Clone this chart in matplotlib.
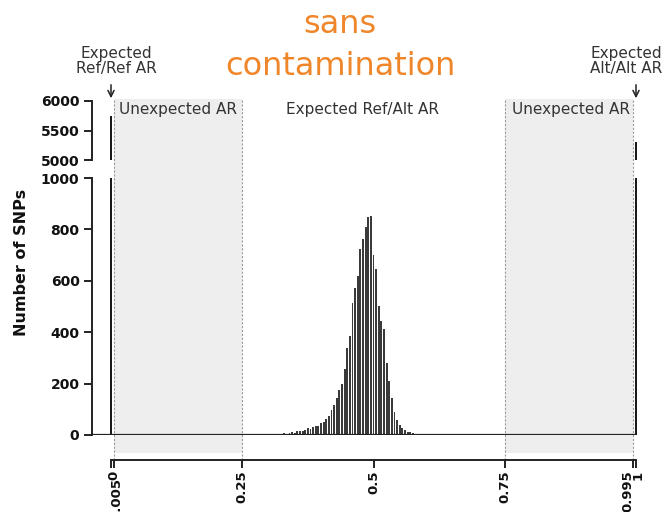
import matplotlib
matplotlib.use("Agg")
import matplotlib.pyplot as plt
import matplotlib.transforms as mtransforms
import numpy as np

# ---------------- data ----------------
bin_centers = [0.300, 0.305, 0.310, 0.315, 0.320, 0.325, 0.330, 0.335, 0.340, 0.345,
               0.350, 0.355, 0.360, 0.365, 0.370, 0.375, 0.380, 0.385, 0.390, 0.395,
               0.400, 0.405, 0.410, 0.415, 0.420, 0.425, 0.430, 0.435, 0.440, 0.445,
               0.450, 0.455, 0.460, 0.465, 0.470, 0.475, 0.480, 0.485, 0.490, 0.495,
               0.500, 0.505, 0.510, 0.515, 0.520, 0.525, 0.530, 0.535, 0.540, 0.545,
               0.550, 0.555, 0.560, 0.565, 0.570, 0.575, 0.580]
snp_counts = [2, 1, 3, 2, 3, 4, 6, 5, 8, 10,
              8, 14, 14, 16, 20, 28, 24, 30, 36, 36,
              45, 52, 61, 72, 97, 117, 143, 175, 197, 257,
              337, 386, 512, 573, 620, 722, 761, 808, 847, 853,
              700, 646, 503, 445, 411, 279, 211, 143, 91, 58,
              39, 26, 19, 13, 10, 7, 5]
extreme_x = [0.0, 1.0]
extreme_counts = [5750, 5310]

xtick_vals = [0, 0.005, 0.25, 0.5, 0.75, 0.995, 1]
xtick_labels = ["0", "0.005", "0.25", "0.5", "0.75", "0.995", "1"]
ytick_low = [0, 200, 400, 600, 800, 1000]
ytick_high = [5000, 5500, 6000]
shade_regions = [(0.005, 0.25), (0.75, 0.995)]
region_labels = ["Unexpected AR", "Expected Ref/Alt AR", "Unexpected AR"]

# ---------------- layout ----------------
W, H = 667, 512
fig = plt.figure(figsize=(W / 100, H / 100), dpi=100)
plt.rcParams['font.family'] = ['DejaVu Sans']

px_spine = 92      # y-axis spine x pixel
px0, px1 = 111, 636  # data 0 and 1
ppu = (px1 - px0)
xlim = (-(px0 - px_spine) / ppu, 1 + 4 / ppu)
ax_left = px_spine / W
ax_width = (640 - px_spine) / W

def fy(p):
    return 1 - p / H

grey_txt = '#333333'
shade_col = '#eeeeee'
dash_col = '#9a9a9a'

# background shading axes
bg = fig.add_axes([ax_left, fy(453), ax_width, fy(99) - fy(453)], zorder=0)
bg.set_xlim(xlim)
bg.set_ylim(0, 1)
for a, b in shade_regions:
    bg.axvspan(a, b, color=shade_col, lw=0)
for xv in [0.005, 0.25, 0.75, 0.995]:
    bg.axvline(xv, color=dash_col, lw=0.8, ls=(0, (2, 1.5)), ymin=-0.02, ymax=1.0, clip_on=False)
bg.axis('off')

# lower axes
axl = fig.add_axes([ax_left, fy(435), ax_width, fy(178) - fy(435)], zorder=2)
axl.patch.set_visible(False)
axl.set_xlim(xlim)
axl.set_ylim(0, 1000)
axl.bar(bin_centers, snp_counts, width=0.0038, color='#3a3a3a', lw=0)
axl.bar(extreme_x, extreme_counts, width=0.004, color='#1a1a1a', lw=0)
axl.hlines(0, xlim[0], 1.0, color='#222222', lw=1.6)
for s in ['top', 'right']:
    axl.spines[s].set_visible(False)
axl.spines['left'].set_bounds(0, 1000)
axl.spines['left'].set_linewidth(1.4)
axl.spines['left'].set_color('#222222')
axl.spines['bottom'].set_position(('outward', 18))
axl.spines['bottom'].set_bounds(0, 1)
axl.spines['bottom'].set_linewidth(1.4)
axl.spines['bottom'].set_color('#222222')
axl.set_yticks(ytick_low)
axl.set_yticklabels([str(v) for v in ytick_low], fontweight='bold', fontsize=10)
axl.set_xticks(xtick_vals)
axl.set_xticklabels(xtick_labels, rotation=90, fontweight='bold', fontsize=9.5)
axl.tick_params(axis='both', direction='out', length=6, width=1.4, color='#222222', labelcolor='#111111', pad=3)
axl.tick_params(axis='x', pad=1.5)
shifts = {"0": (3, 0), "0.005": (3, -8), "0.995": (-5, 0), "1": (2, 0)}
for lab in axl.get_xticklabels():
    dx, dy = shifts.get(lab.get_text(), (0, 0))
    if dx or dy:
        off = mtransforms.ScaledTranslation(dx / 100, dy / 100, fig.dpi_scale_trans)
        lab.set_transform(lab.get_transform() + off)

# upper axes
axh = fig.add_axes([ax_left, fy(160), ax_width, fy(101) - fy(160)], zorder=2)
axh.patch.set_visible(False)
axh.set_xlim(xlim)
axh.set_ylim(5000, 6000)
axh.bar(extreme_x, extreme_counts, width=0.004, color='#1a1a1a', lw=0)
for s in ['top', 'right', 'bottom']:
    axh.spines[s].set_visible(False)
axh.spines['left'].set_linewidth(1.4)
axh.spines['left'].set_color('#222222')
axh.set_xticks([])
axh.set_yticks(ytick_high)
axh.set_yticklabels([str(v) for v in ytick_high], fontweight='bold', fontsize=10)
axh.tick_params(axis='y', direction='out', length=6, width=1.4, color='#222222', labelcolor='#111111', pad=3)

# region labels
bg.text(0.005 + 0.011, 0.992, region_labels[0], ha='left', va='top', fontsize=11, color=grey_txt)
bg.text(0.48, 0.992, region_labels[1], ha='center', va='top', fontsize=11, color=grey_txt)
bg.text(0.995 - 0.007, 0.992, region_labels[2], ha='right', va='top', fontsize=11, color=grey_txt)

# y label
fig.text(22 / W, fy(262), "Number of SNPs", rotation=90, ha='center', va='center',
         fontweight='bold', fontsize=11.5, color='#111111')

# expected annotations with arrows
for xv, txt in [(0.0, "Expected\nRef/Ref AR"), (1.0, "Expected\nAlt/Alt AR")]:
    xp = (px0 + xv * ppu)
    xt = 116 if xv == 0 else 626
    fig.text(xt / W, fy(61), txt, ha='center', va='center', fontsize=11,
             color=grey_txt, linespacing=1.0)
    fig.add_artist(matplotlib.patches.FancyArrowPatch(
        (xp / W, fy(82)), (xp / W, fy(101)), transform=fig.transFigure,
        arrowstyle='->', mutation_scale=11, color='#222222', lw=1.1))

# title
fig.text(340 / W, fy(33), "sans", ha='center', va='baseline', fontsize=23, color='#F0862A')
fig.text(340 / W, fy(75), "contamination", ha='center', va='baseline', fontsize=23, color='#F0862A')

fig.savefig("out.png", dpi=100)
